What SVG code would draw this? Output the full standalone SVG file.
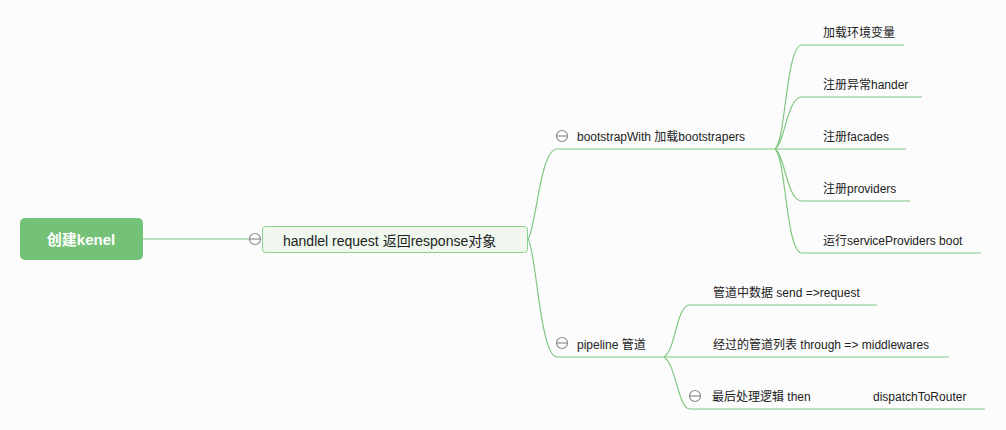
<svg xmlns="http://www.w3.org/2000/svg" width="1006" height="430" viewBox="0 0 1006 430">
<style>
.t{font-family:"Liberation Sans","Noto Sans CJK SC",Arial,sans-serif;font-size:12px;fill:#222}
.ln{fill:none;stroke:#80c880;stroke-width:1.2}
.col circle{fill:#fff;stroke:#8a8a8a;stroke-width:1.2}
.col line{stroke:#8a8a8a;stroke-width:1.2}
</style>
<defs>
<g id="collapse" class="col"><circle cx="0" cy="0" r="5.5"/><line x1="-5" y1="0" x2="5" y2="0"/></g>
</defs>
<rect width="1006" height="430" fill="#fcfcfc"/>
<g id="connectors">
<path class="ln" d="M143,239 H250"/>
<path class="ln" d="M528,239 C536,229 540,149 557,149 H775"/>
<path class="ln" d="M528,239 C536,249 540,357 557,357 H664"/>
<path class="ln" d="M775,149 C786,140 786,45 802,45 H904"/>
<path class="ln" d="M775,149 C785,143 787,97 802,97 H922"/>
<path class="ln" d="M775,149 H906"/>
<path class="ln" d="M775,149 C785,155 787,201 802,201 H910"/>
<path class="ln" d="M775,149 C786,158 786,253 802,253 H981"/>
<path class="ln" d="M664,357 C676,350 676,305 690,305 H877"/>
<path class="ln" d="M664,357 H949"/>
<path class="ln" d="M664,357 C676,364 678,409 690,409 H985"/>
</g>
<g id="root">
<rect x="20" y="218" width="123" height="42" rx="5" fill="#74c178"/>
<text x="81" y="245" text-anchor="middle" style="font-family:'Liberation Sans','Noto Sans CJK SC',Arial,sans-serif;font-size:15px;font-weight:bold;fill:#fff">创建kenel</text>
</g>
<g id="main">
<use href="#collapse" x="255" y="239"/>
<rect x="262.5" y="226.5" width="265" height="26" rx="3" fill="#eff7ee" stroke="#8fd08f" stroke-width="1"/>
<text class="t" x="283" y="246" style="font-size:14px">handlel request 返回response对象</text>
</g>
<g id="bootstrap">
<use href="#collapse" x="562" y="136"/>
<text class="t" x="577" y="141">bootstrapWith 加载bootstrapers</text>
</g>
<g id="env"><text class="t" x="823" y="37">加载环境变量</text></g>
<g id="hander"><text class="t" x="823" y="89">注册异常hander</text></g>
<g id="facades"><text class="t" x="823" y="141">注册facades</text></g>
<g id="providers"><text class="t" x="823" y="193">注册providers</text></g>
<g id="boot"><text class="t" x="823" y="245">运行serviceProviders boot</text></g>
<g id="pipeline">
<use href="#collapse" x="562" y="343"/>
<text class="t" x="577" y="349">pipeline 管道</text>
</g>
<g id="send"><text class="t" x="713" y="297">管道中数据 send =&gt;request</text></g>
<g id="through"><text class="t" x="713" y="349">经过的管道列表 through =&gt; middlewares</text></g>
<g id="then">
<use href="#collapse" x="695" y="396"/>
<text class="t" x="712" y="401">最后处理逻辑 then</text>
</g>
<g id="dispatch"><text class="t" x="873" y="401">dispatchToRouter</text></g>
</svg>
